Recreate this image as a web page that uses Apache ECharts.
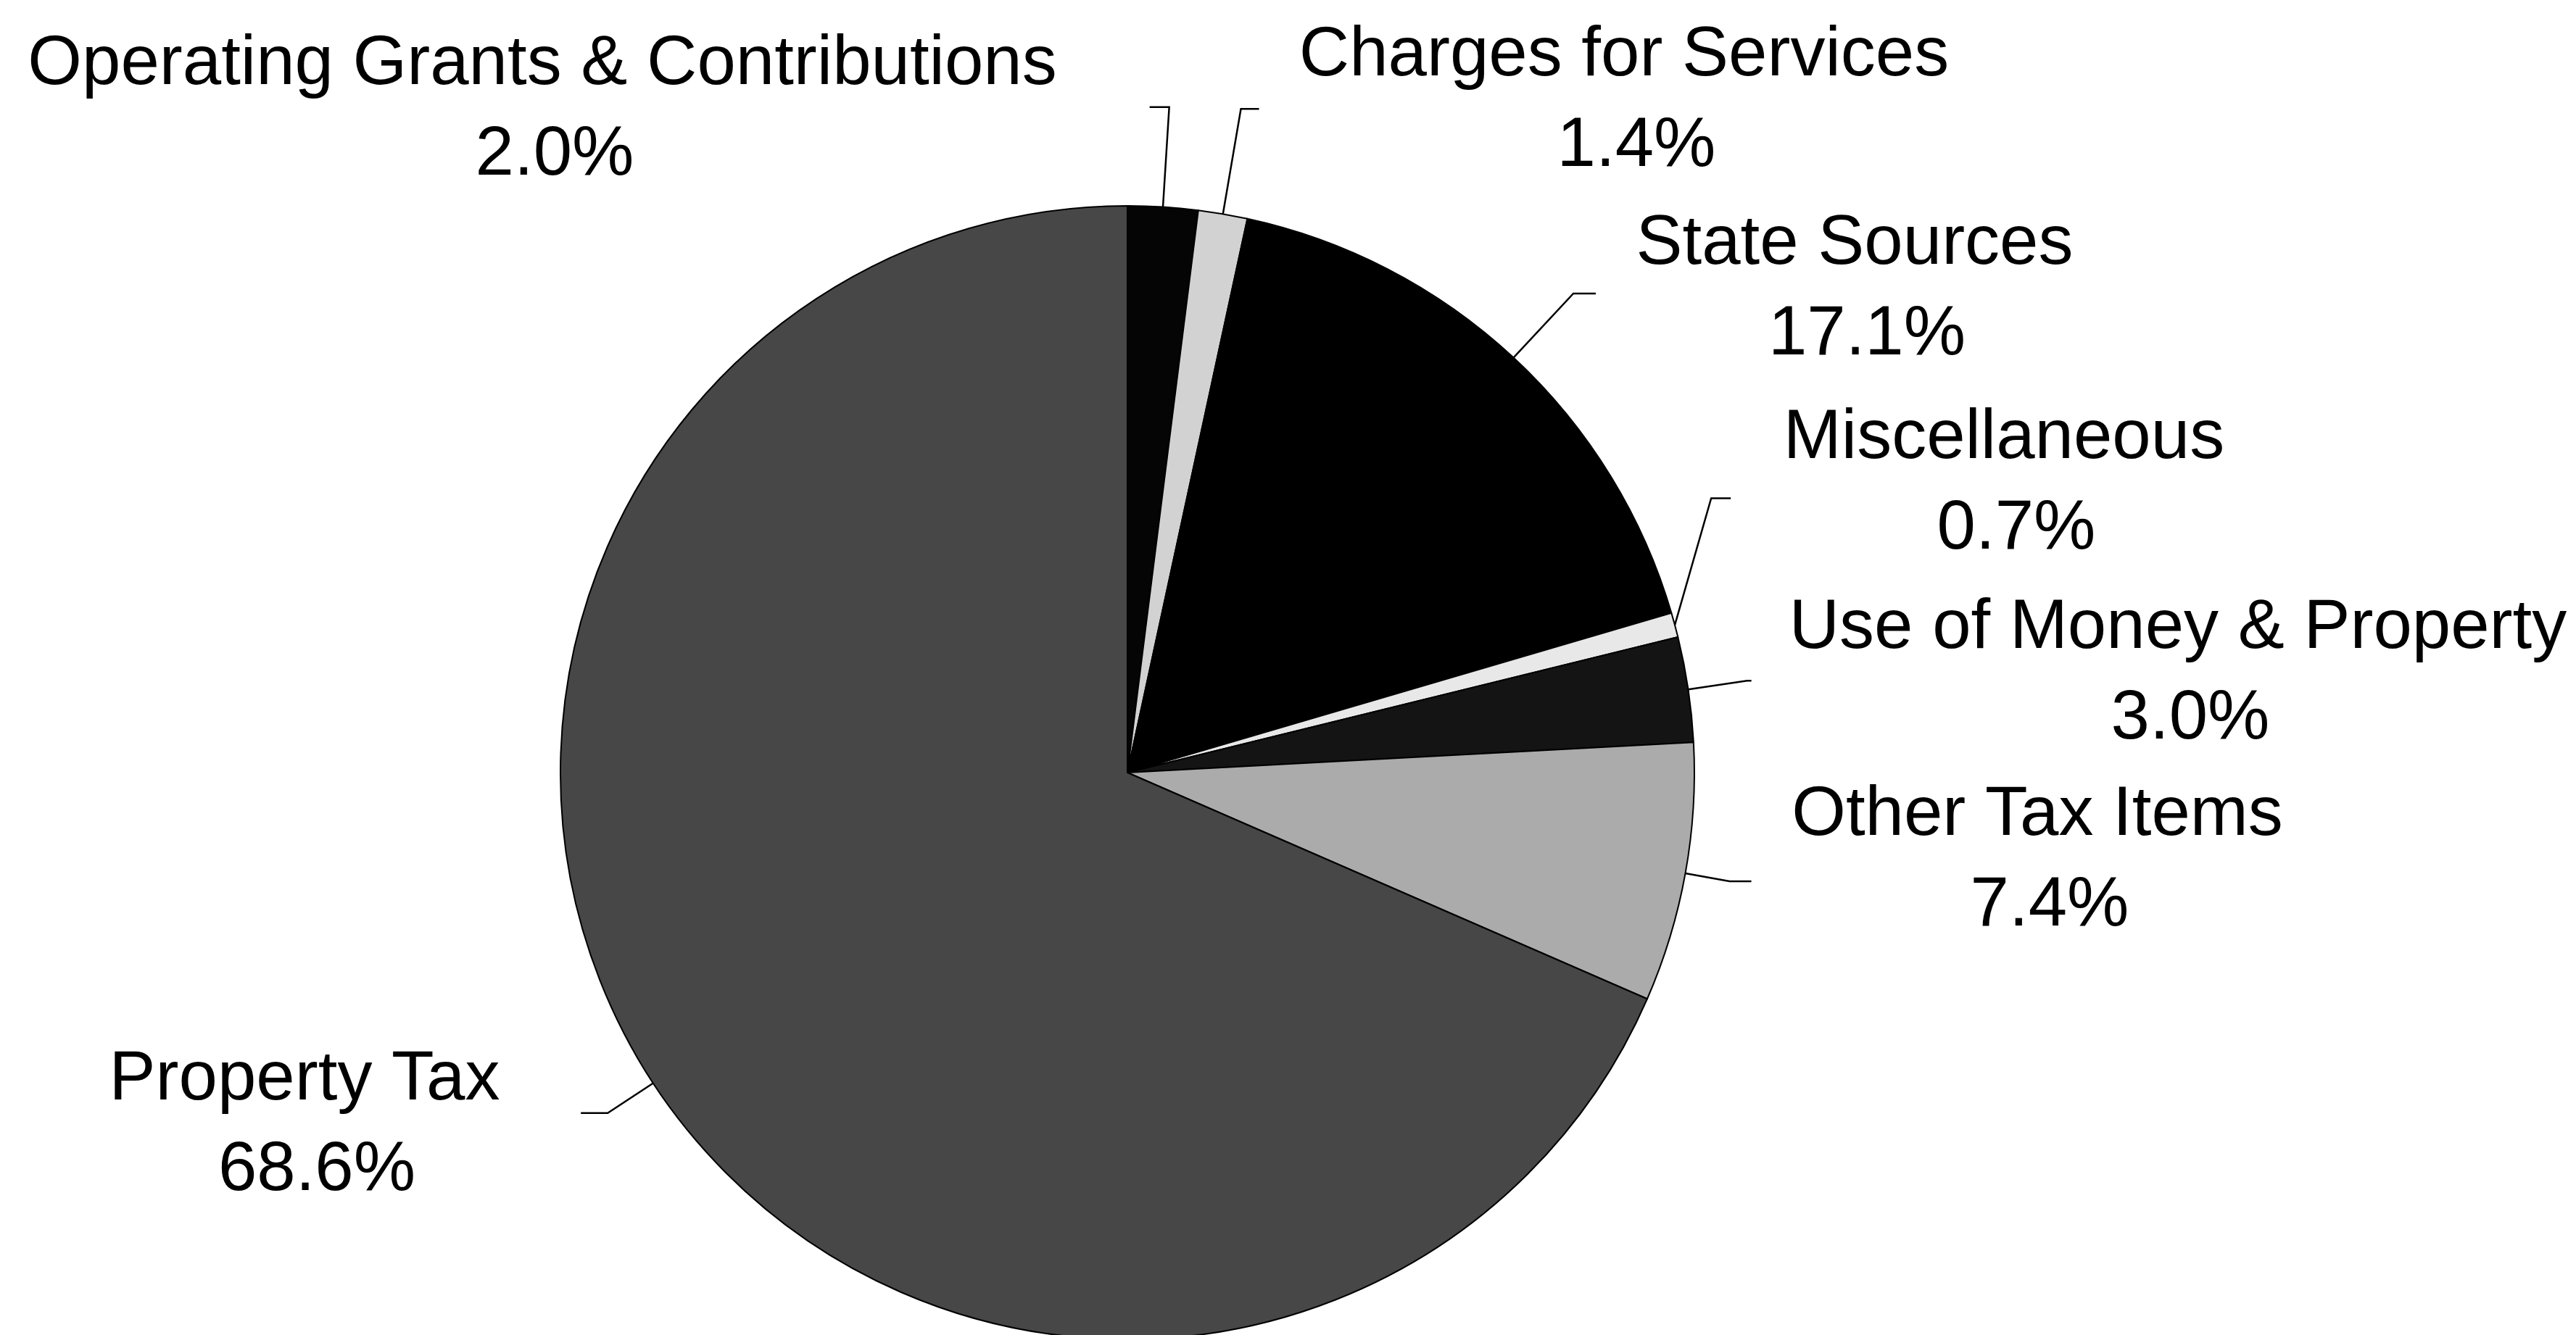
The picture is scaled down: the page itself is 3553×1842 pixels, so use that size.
<!DOCTYPE html>
<html>
<head>
<meta charset="utf-8">
<script src="https://cdn.jsdelivr.net/npm/echarts@6/dist/echarts.min.js"></script>
<style>
  html, body { margin: 0; padding: 0; background: #ffffff; }
  #chart { width: 3553px; height: 1842px; }
</style>
</head>
<body>
<div id="chart"></div>
<script>
// ---- data ----
const categories = [
  'Operating Grants & Contributions',
  'Charges for Services',
  'State Sources',
  'Miscellaneous',
  'Use of Money & Property',
  'Other Tax Items',
  'Property Tax'
];
const values = [2.0, 1.4, 17.1, 0.7, 3.0, 7.4, 68.6];

// ---- styles ----
const sliceColors = ['#050505', '#d2d2d2', '#000000', '#e8e8e8', '#141414', '#ababab', '#474747'];
// label block centres (px)
const labelCenters = [
  [748, 152], [2240, 140], [2558, 400], [2764, 668], [3004, 930], [2810, 1188], [420, 1553]
];
// leader lines: [bearing override in degrees (null = radial), first length, second length (signed: + right, - left)]
const leaders = [
  [null, 138, -27],
  [null, 147, 25],
  [null, 121, 31],
  [16, 182, 27],
  [null, 82, 6],
  [null, 62, 30],
  [null, 75, -37]
];

const data = categories.map((name, i) => ({
  name: name,
  value: values[i],
  itemStyle: { color: sliceColors[i] }
}));

const chart = echarts.init(document.getElementById('chart'), null, { renderer: 'canvas' });
chart.setOption({
  backgroundColor: '#ffffff',
  animation: false,
  series: [{
    type: 'pie',
    center: [1555, 1066],
    radius: 782,
    startAngle: 90,
    clockwise: true,
    avoidLabelOverlap: false,
    silent: true,
    data: data,
    itemStyle: { borderColor: '#000000', borderWidth: 2 },
    label: {
      show: true,
      position: 'outside',
      color: '#000000',
      fontFamily: '"Liberation Sans", Arial, sans-serif',
      fontSize: 96,
      formatter: function (p) {
        return '{n|' + p.name + '}\n{v|' + p.value.toFixed(1) + '%}';
      },
      rich: {
        n: { fontSize: 96, lineHeight: 125, color: '#000', fontFamily: '"Liberation Sans", Arial, sans-serif', align: 'center' },
        v: { fontSize: 96, lineHeight: 125, color: '#000', fontFamily: '"Liberation Sans", Arial, sans-serif', align: 'center', padding: [0, 0, 0, 34] }
      }
    },
    labelLine: {
      show: true,
      length: 100,
      length2: 20,
      lineStyle: { color: '#000000', width: 2.5 }
    },
    labelLayout: function (p) {
      const i = p.dataIndex;
      const c = labelCenters[i];
      const out = { x: c[0], y: c[1], align: 'center', verticalAlign: 'middle' };
      const pts = p.labelLinePoints;
      if (pts && pts.length >= 2) {
        const p0 = pts[0];
        const lc = leaders[i];
        let dx, dy;
        if (lc[0] == null) {
          const vx = pts[1][0] - p0[0], vy = pts[1][1] - p0[1];
          const len = Math.sqrt(vx * vx + vy * vy) || 1;
          dx = vx / len; dy = vy / len;
        } else {
          const a = lc[0] * Math.PI / 180;
          dx = Math.sin(a); dy = -Math.cos(a);
        }
        const p1 = [p0[0] + dx * lc[1], p0[1] + dy * lc[1]];
        const p2 = [p1[0] + lc[2], p1[1]];
        out.labelLinePoints = [p0, p1, p2];
      }
      return out;
    }
  }]
});
</script>
</body>
</html>
